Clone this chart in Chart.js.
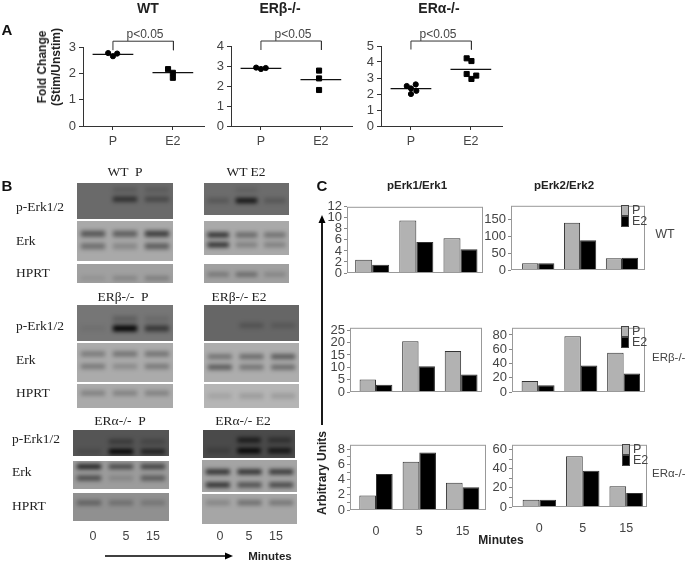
<!DOCTYPE html>
<html>
<head>
<meta charset="utf-8">
<script src="https://cdn.jsdelivr.net/npm/chart.js"></script>
<style>
html, body { margin: 0; padding: 0; background: #fff; }
#page { position: relative; width: 685px; height: 562px; overflow: hidden; font-family: "Liberation Sans", Arial, sans-serif; color: #333; }
#page canvas { position: absolute; }
.txt { position: absolute; white-space: pre; transform: translate(-50%, -50%); will-change: transform; }
.left { transform: translate(0, -50%); }
.rot { transform: translate(-50%, -50%) rotate(-90deg); }
.panel { font: bold 15px "Liberation Sans", Arial, sans-serif; color: #111; }
.head { font: bold 14px "Liberation Sans", Arial, sans-serif; color: #222; }
.sig { font-size: 12px; color: #444; }
.serif { font: 13.5px "Liberation Serif", "Times New Roman", serif; color: #222; }
.sans { font-size: 12.5px; color: #444; }
.small { font-size: 11.5px; color: #444; }
.strong { font-weight: bold; font-size: 11.5px; color: #222; }
.blot { position: absolute; overflow: hidden; }
.blot canvas { filter: blur(1.9px); left: 0; top: 0; }
.key { position: absolute; width: 8px; border: 1px solid #444; box-sizing: border-box; }
</style>
</head>
<body>
<div id="page"></div>
<script>
// panel A: fold change
const groupsA = ['P', 'E2'];
const wtPx = [0.92, 1.0, 1.07];
const wtPy = [2.77, 2.65, 2.75];
const wtE2x = [1.92, 2.0, 2.0];
const wtE2y = [2.16, 2.02, 1.83];
const wtMeans = [2.72, 2.03];
const betaPx = [0.92, 1.0, 1.08];
const betaPy = [2.92, 2.85, 2.9];
const betaE2x = [1.97, 1.97, 1.97];
const betaE2y = [2.77, 2.38, 1.8];
const betaMeans = [2.88, 2.32];
const alphaPx = [0.93, 1.08, 1.0, 1.09, 1.0];
const alphaPy = [2.5, 2.6, 2.35, 2.2, 2.0];
const alphaE2x = [1.93, 2.01, 1.93, 2.09, 2.01];
const alphaE2y = [4.23, 4.06, 3.25, 3.15, 2.94];
const alphaMeans = [2.33, 3.54];

// panel C: densitometry
const minutes = ['0', '5', '15'];
const wtErk1P = [2.4, 9.5, 6.3];
const wtErk1E2 = [1.5, 5.6, 4.3];
const wtErk2P = [20, 140, 35];
const wtErk2E2 = [20, 88, 36];
const betaErk1P = [5.1, 20.6, 16.6];
const betaErk1E2 = [2.9, 10.4, 7.1];
const betaErk2P = [15.4, 78, 55];
const betaErk2E2 = [9.5, 37, 26];
const alphaErk1P = [1.9, 6.35, 3.6];
const alphaErk1E2 = [4.75, 7.6, 3.0];
const alphaErk2P = [7.5, 53, 21.7];
const alphaErk2E2 = [7.5, 38, 14.6];

// panel B: band darkness per lane (0, 5, 15 min), one list per band row
const wtPPhos = [[0, 0.15, 0.15], [0, 0.6, 0.35]];
const wtPErk = [[0.5, 0.45, 0.65], [0.35, 0.2, 0.45]];
const wtPHprt = [[0.1, 0.2, 0.25]];
const wtE2Phos = [[0, 0.1, 0], [0.2, 0.85, 0.2]];
const wtE2Erk = [[0.75, 0.4, 0.35], [0.75, 0.25, 0.25]];
const wtE2Hprt = [[0.3, 0.4, 0.2]];
const betaPPhos = [[0, 0.2, 0.1], [0.05, 1, 0.55]];
const betaPErk = [[0.3, 0.35, 0.35], [0.3, 0.2, 0.3]];
const betaPHprt = [[0.25, 0.25, 0.25]];
const betaE2Phos = [[0, 0.2, 0.15]];
const betaE2Erk = [[0.35, 0.4, 0.5], [0.5, 0.35, 0.4]];
const betaE2Hprt = [[0.1, 0.15, 0.15]];
const alphaPPhos = [[0, 0.35, 0.2], [0.15, 1, 0.65]];
const alphaPErk = [[0.8, 0.55, 0.6], [0.55, 0.15, 0.45]];
const alphaPHprt = [[0.35, 0.25, 0.2]];
const alphaE2Phos = [[0, 0.7, 0.4], [0.2, 1, 0.8]];
const alphaE2Erk = [[0.75, 0.75, 0.7], [0.75, 0.55, 0.6]];
const alphaE2Hprt = [[0.2, 0.35, 0.3]];

const page = document.getElementById('page');

function addText(text, x, y, cls) {
    const el = document.createElement('div');
    el.className = 'txt ' + cls;
    el.textContent = text;
    el.style.left = x + 'px';
    el.style.top = y + 'px';
    page.appendChild(el);
    return el;
}

// canvas placed so the plot area lands on left/top/right/bottom of the page
function plotCanvas(left, top, right, bottom, m) {
    const c = document.createElement('canvas');
    c.width = right - left + m.l + m.r;
    c.height = bottom - top + m.t + m.b;
    c.style.left = (left - m.l) + 'px';
    c.style.top = (top - m.t) + 'px';
    page.appendChild(c);
    return c;
}

const framePlugin = {
    id: 'frame',
    afterDraw(chart) {
        const a = chart.chartArea, ctx = chart.ctx;
        ctx.save();
        ctx.strokeStyle = '#999';
        ctx.lineWidth = 1;
        ctx.strokeRect(a.left + 0.5, a.top + 0.5, a.width - 1, a.height - 1);
        ctx.restore();
    }
};

function dotChart(box, yMax, px, py, qx, qy, means, bracket) {
    const m = { l: 34, r: 6, t: 14, b: 26 };
    const canvas = plotCanvas(box[0], box[1], box[2], box[3], m);
    const toPts = (xs, ys) => xs.map((x, i) => ({ x: x, y: ys[i] }));
    const meanLine = (c, v) => ({
        data: [{ x: c - 0.34, y: v }, { x: c + 0.34, y: v }],
        showLine: true, borderColor: '#111', borderWidth: 1.2, pointRadius: 0
    });
    new Chart(canvas, {
        type: 'scatter',
        data: {
            datasets: [
                { data: toPts(px, py), pointStyle: 'circle', pointRadius: 2.6, backgroundColor: '#000', borderColor: '#000' },
                { data: toPts(qx, qy), pointStyle: 'rect', pointRadius: 3.6, backgroundColor: '#000', borderColor: '#000' },
                meanLine(1, means[0]),
                meanLine(2, means[1]),
                {
                    data: [{ x: 1, y: bracket[1] }, { x: 1, y: bracket[0] }, { x: 2.01, y: bracket[0] }, { x: 2.01, y: bracket[1] }],
                    showLine: true, clip: false, borderColor: '#333', borderWidth: 1, pointRadius: 0
                }
            ]
        },
        options: {
            responsive: false,
            animation: false,
            layout: { padding: { top: m.t, right: m.r } },
            plugins: { legend: { display: false }, tooltip: { enabled: false } },
            scales: {
                x: {
                    type: 'linear', min: 0.5, max: 2.52,
                    afterFit: s => { s.height = m.b; },
                    afterBuildTicks: s => { s.ticks = [{ value: 1 }, { value: 2 }]; },
                    border: { color: '#333' },
                    grid: { drawOnChartArea: false, tickLength: 4, tickColor: '#333' },
                    ticks: { callback: v => groupsA[v - 1], color: '#444', font: { size: 12.5 }, padding: 4, maxRotation: 0 }
                },
                y: {
                    min: 0, max: yMax,
                    afterFit: s => { s.width = m.l; },
                    border: { color: '#333' },
                    grid: { drawOnChartArea: false, tickLength: 4, tickColor: '#333' },
                    ticks: { stepSize: 1, autoSkip: false, color: '#444', font: { size: 13 }, padding: 3 }
                }
            }
        }
    });
}

function barChart(box, xRange, yMax, major, minor, p, e2, showX) {
    const m = { l: 40, r: 3, t: 8, b: showX ? 30 : 10 };
    const canvas = plotCanvas(box[0], box[1], box[2], box[3], m);
    const toPts = vals => vals.map((v, i) => ({ x: i, y: v }));
    new Chart(canvas, {
        type: 'bar',
        data: {
            datasets: [
                { label: 'P', data: toPts(p), backgroundColor: '#b2b2b2', borderColor: '#333', borderWidth: 1 },
                { label: 'E2', data: toPts(e2), backgroundColor: '#000', borderColor: '#333', borderWidth: 1 }
            ]
        },
        options: {
            responsive: false,
            animation: false,
            categoryPercentage: 0.77,
            barPercentage: 1,
            layout: { padding: { top: m.t, right: m.r } },
            plugins: { legend: { display: false }, tooltip: { enabled: false } },
            scales: {
                x: {
                    type: 'linear', offset: false, min: xRange[0], max: xRange[1],
                    afterFit: s => { s.height = m.b; },
                    afterBuildTicks: s => { s.ticks = [{ value: 0 }, { value: 1 }, { value: 2 }]; },
                    border: { display: false },
                    grid: { display: false },
                    ticks: { display: showX, callback: v => minutes[v], color: '#444', font: { size: 12.5 }, padding: 6, maxRotation: 0 }
                },
                y: {
                    min: 0, max: yMax,
                    afterFit: s => { s.width = m.l; },
                    border: { display: false },
                    grid: { drawOnChartArea: false, tickLength: 3, tickColor: '#888' },
                    ticks: {
                        stepSize: minor, includeBounds: false, autoSkip: false,
                        callback: v => (v % major === 0 ? v : ''),
                        color: '#444', font: { size: 13 }, padding: 2
                    }
                }
            }
        },
        plugins: [framePlugin]
    });
}

// one blot strip: floating bars per band row, blurred by css over a flat panel colour
function blotStrip(x, y, w, h, bg, rowCentres, rows, bandPx) {
    const box = document.createElement('div');
    box.className = 'blot';
    box.style.cssText = `left:${x}px;top:${y}px;width:${w}px;height:${h}px;background:${bg}`;
    const c = document.createElement('canvas');
    c.width = w;
    c.height = h;
    box.appendChild(c);
    page.appendChild(box);
    const half = bandPx / 2 / h;
    new Chart(c, {
        type: 'bar',
        data: {
            labels: minutes,
            datasets: rows.map((row, i) => ({
                data: row.map(() => [rowCentres[i] - half, rowCentres[i] + half]),
                backgroundColor: row.map(v => `rgba(0,0,0,${v})`),
                grouped: false
            }))
        },
        options: {
            responsive: false,
            animation: false,
            categoryPercentage: 1,
            barPercentage: 0.76,
            plugins: { legend: { display: false }, tooltip: { enabled: false } },
            scales: {
                x: { display: false },
                y: { display: false, min: 0, max: 1 }
            }
        }
    });
}

// panel A charts
dotChart([83, 47, 204, 126], 3, wtPx, wtPy, wtE2x, wtE2y, wtMeans, [3.22, 2.88]);
dotChart([231, 46, 352, 126], 4, betaPx, betaPy, betaE2x, betaE2y, betaMeans, [4.25, 3.8]);
dotChart([381, 46, 502, 126], 5, alphaPx, alphaPy, alphaE2x, alphaE2y, alphaMeans, [5.31, 4.78]);

addText('A', 7, 29, 'panel');
addText('WT', 148, 8, 'head');
addText('ERβ-/-', 280, 8, 'head');
addText('ERα-/-', 439, 8, 'head');
addText('p<0.05', 145, 34, 'sig');
addText('p<0.05', 293, 34, 'sig');
addText('p<0.05', 438, 34, 'sig');
addText('Fold Change', 42, 67, 'strong rot').style.fontSize = '12px';
addText('(Stim/Unstim)', 56, 67, 'strong rot').style.fontSize = '12px';

// panel B strips
blotStrip(77, 183, 96, 36, '#6a6a6a', [0.81, 0.55], wtPPhos, 5);
blotStrip(77, 221, 96, 40, '#a9a9a9', [0.68, 0.37], wtPErk, 6);
blotStrip(77, 264, 96, 19, '#a0a0a0', [0.25], wtPHprt, 4);
blotStrip(204, 183, 85, 32, '#6c6c6c', [0.78, 0.45], wtE2Phos, 5);
blotStrip(204, 221, 85, 34, '#a9a9a9', [0.59, 0.3], wtE2Erk, 5);
blotStrip(204, 264, 85, 19, '#a0a0a0', [0.45], wtE2Hprt, 4);
blotStrip(77, 305, 96, 36, '#767676', [0.61, 0.35], betaPPhos, 6);
blotStrip(77, 343, 96, 39, '#ababab', [0.72, 0.4], betaPErk, 5);
blotStrip(77, 384, 96, 24, '#aaaaaa', [0.62], betaPHprt, 5);
blotStrip(204, 305, 95, 36, '#666666', [0.43], betaE2Phos, 5);
blotStrip(204, 343, 95, 39, '#adadad', [0.65, 0.38], betaE2Erk, 5);
blotStrip(204, 384, 95, 24, '#b5b5b5', [0.5], betaE2Hprt, 5);
blotStrip(73, 430, 96, 26, '#555555', [0.55, 0.17], alphaPPhos, 5);
blotStrip(73, 461, 96, 28, '#9c9c9c', [0.8, 0.39], alphaPErk, 5);
blotStrip(73, 493, 96, 28, '#909090', [0.65], alphaPHprt, 5);
blotStrip(203, 430, 92, 28, '#4a4a4a', [0.64, 0.26], alphaE2Phos, 5);
blotStrip(202, 460, 95, 32, '#a4a4a4', [0.63, 0.22], alphaE2Erk, 5);
blotStrip(202, 494, 95, 30, '#a6a6a6', [0.71], alphaE2Hprt, 5);

addText('B', 7, 185, 'panel');
addText('WT  P', 125, 172, 'serif');
addText('WT E2', 246, 172, 'serif');
addText('ERβ-/-  P', 123, 297, 'serif');
addText('ERβ-/- E2', 239, 297, 'serif');
addText('ERα-/-  P', 120, 421, 'serif');
addText('ERα-/- E2', 243, 421, 'serif');
[[16, 207, 241, 273], [16, 326, 360, 393], [12, 439, 472, 506]].forEach(r => {
    addText('p-Erk1/2', r[0], r[1], 'serif left');
    addText('Erk', r[0], r[2], 'serif left');
    addText('HPRT', r[0], r[3], 'serif left');
});
[93, 126, 153, 220, 249, 276].forEach((x, i) => addText(minutes[i % 3], x, 536, 'sans'));
addText('Minutes', 270, 556, 'strong');

// arrows of panels B and C
const svgNS = 'http://www.w3.org/2000/svg';
const svg = document.createElementNS(svgNS, 'svg');
svg.setAttribute('width', 685);
svg.setAttribute('height', 562);
svg.style.cssText = 'position:absolute;left:0;top:0;pointer-events:none';
svg.innerHTML =
    '<path d="M105 556H226" stroke="#000" stroke-width="1.6"/><path d="M233 556l-8 -3.5v7z" fill="#000"/>' +
    '<path d="M322 222V425" stroke="#000" stroke-width="1.8"/><path d="M322 215l-3.5 8h7z" fill="#000"/>';
page.appendChild(svg);

// panel C charts
barChart([347, 205, 483, 273], [-0.57, 2.51], 12, 2, 2, wtErk1P, wtErk1E2, false);
barChart([511, 204, 645, 270], [-0.65, 2.55], 190, 50, 50, wtErk2P, wtErk2E2, false);
barChart([350, 326, 482, 392], [-0.61, 2.49], 26, 5, 5, betaErk1P, betaErk1E2, false);
barChart([512, 326, 645, 392], [-0.61, 2.5], 90, 20, 20, betaErk2P, betaErk2E2, false);
barChart([350, 443, 486, 510], [-0.6, 2.54], 8.6, 2, 1, alphaErk1P, alphaErk1E2, true);
barChart([512, 443, 647, 507], [-0.63, 2.48], 65, 20, 10, alphaErk2P, alphaErk2E2, true);

addText('C', 322, 185, 'panel');
addText('pErk1/Erk1', 417, 185, 'strong');
addText('pErk2/Erk2', 564, 185, 'strong');
addText('WT', 665, 234, 'sans');
addText('ERβ-/-', 652, 357, 'small left');
addText('ERα-/-', 652, 473, 'small left');
addText('Arbitrary Units', 322, 473, 'strong rot').style.fontSize = '12px';
addText('Minutes', 501, 540, 'strong').style.fontSize = '12px';

// legends inside the right-hand column
[[621, 205], [621, 326], [622, 444]].forEach(k => {
    const p = document.createElement('div');
    p.className = 'key';
    p.style.cssText = `left:${k[0]}px;top:${k[1]}px;height:11px;background:#b2b2b2`;
    page.appendChild(p);
    const e = document.createElement('div');
    e.className = 'key';
    e.style.cssText = `left:${k[0]}px;top:${k[1] + 11}px;height:11px;background:#000`;
    page.appendChild(e);
    addText('P', k[0] + 11, k[1] + 5, 'sans left');
    addText('E2', k[0] + 11, k[1] + 16, 'sans left');
});
</script>
</body>
</html>
